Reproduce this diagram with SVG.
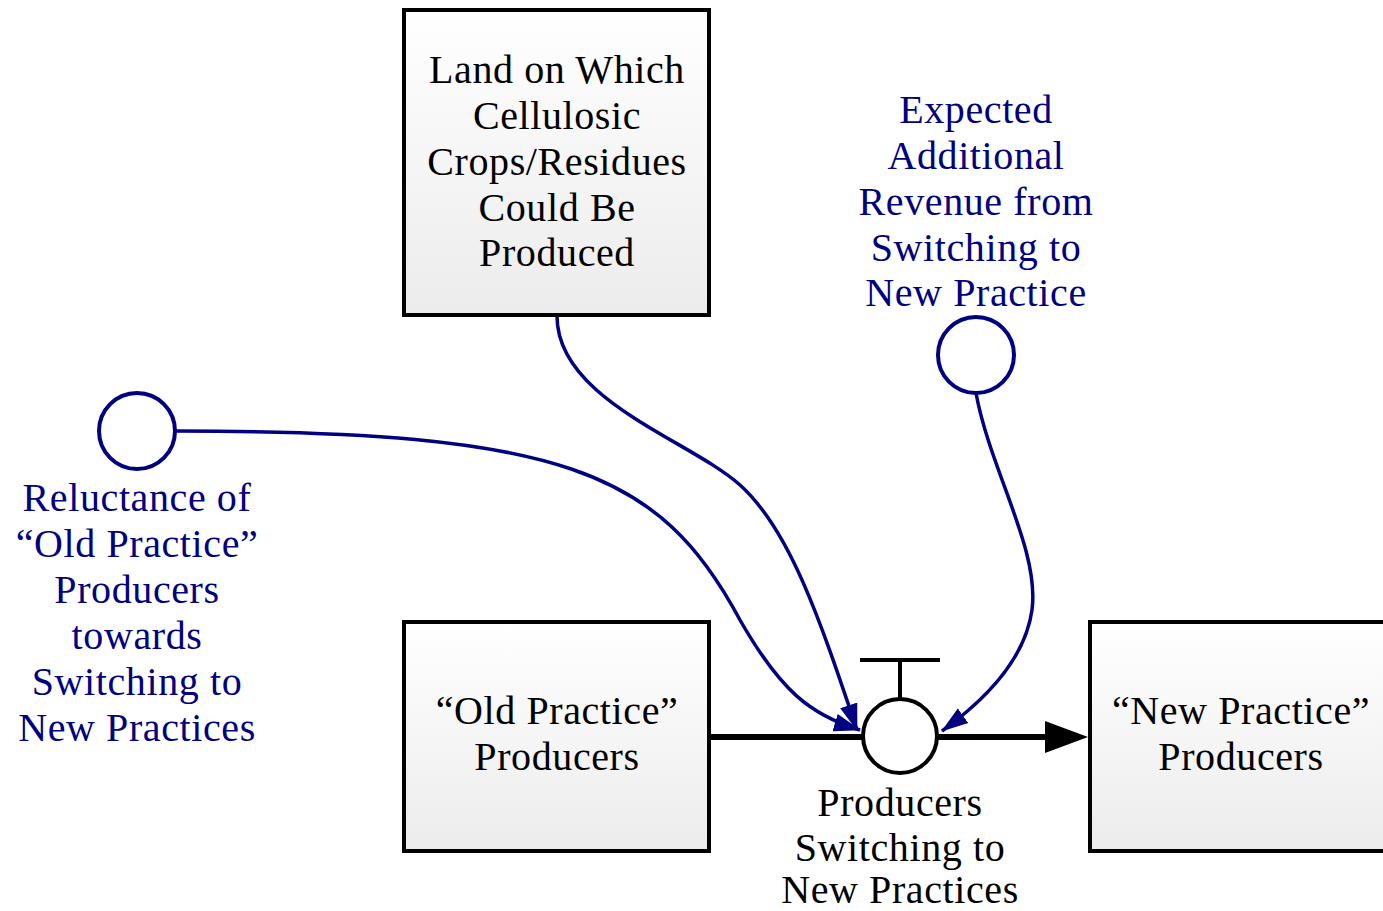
<svg xmlns="http://www.w3.org/2000/svg" width="1383" height="911" viewBox="0 0 1383 911">
<defs>
<linearGradient id="g" x1="0" y1="0" x2="0" y2="1"><stop offset="0" stop-color="#ffffff"/><stop offset="1" stop-color="#ececec"/></linearGradient>
<marker id="na" markerWidth="28" markerHeight="20" refX="26" refY="10" orient="auto" markerUnits="userSpaceOnUse"><path d="M0,1 L27,10 L0,19 Z" fill="#000080"/></marker>
<style>
.box{fill:url(#g);stroke:#000;stroke-width:4}
.t{font-family:"Liberation Serif","DejaVu Serif",serif;font-size:40px;letter-spacing:0.6px;text-anchor:middle}
.k{fill:#000}
.b{fill:#000080}
.aux{fill:#fff;stroke:#000080;stroke-width:4}
.lnk{fill:none;stroke:#000080;stroke-width:3.5;marker-end:url(#na)}
</style>
</defs>
<rect width="1383" height="911" fill="#fff"/>
<g id="connectors">
<path class="lnk" d="M176,431 C560,431 660,470 740,620 C780,690 810,715 860,730"/>
<path class="lnk" d="M557,316 C557,400 690,440 740,485 C790,530 820,620 857,730"/>
<path class="lnk" d="M976,393 C990,470 1040,550 1032,610 C1025,660 985,700 942,731"/>
<path d="M709,737 L863,737" stroke="#000" stroke-width="6" fill="none"/>
<path d="M938,737 L1050,737" stroke="#000" stroke-width="6" fill="none"/>
<path d="M1045,721 L1088,737 L1045,753 Z" fill="#000"/>
</g>
<g id="land">
<rect class="box" x="404" y="10" width="305" height="305"/>
<text class="t k"><tspan x="557" y="83">Land on Which</tspan><tspan x="557" y="129">Cellulosic</tspan><tspan x="557" y="175">Crops/Residues</tspan><tspan x="557" y="221">Could Be</tspan><tspan x="557" y="266">Produced</tspan></text>
</g>
<g id="old">
<rect class="box" x="404" y="622" width="305" height="229"/>
<text class="t k"><tspan x="557" y="724">“Old Practice”</tspan><tspan x="557" y="770">Producers</tspan></text>
</g>
<g id="new">
<rect class="box" x="1090" y="622" width="305" height="229"/>
<text class="t k"><tspan x="1241" y="724">“New Practice”</tspan><tspan x="1241" y="770">Producers</tspan></text>
</g>
<g id="valve">
<path d="M860,660 L940,660 M900,660 L900,699" stroke="#000" stroke-width="4" fill="none"/>
<circle cx="900" cy="736" r="37" fill="#fff" stroke="#000" stroke-width="4"/>
<text class="t k"><tspan x="900" y="816">Producers</tspan><tspan x="900" y="861">Switching to</tspan><tspan x="900" y="903">New Practices</tspan></text>
</g>
<g id="reluctance">
<circle class="aux" cx="137" cy="431" r="38"/>
<text class="t b"><tspan x="137" y="511">Reluctance of</tspan><tspan x="137" y="557">“Old Practice”</tspan><tspan x="137" y="603">Producers</tspan><tspan x="137" y="649">towards</tspan><tspan x="137" y="695">Switching to</tspan><tspan x="137" y="741">New Practices</tspan></text>
</g>
<g id="revenue">
<circle class="aux" cx="976" cy="355" r="38"/>
<text class="t b"><tspan x="976" y="123">Expected</tspan><tspan x="976" y="169">Additional</tspan><tspan x="976" y="215">Revenue from</tspan><tspan x="976" y="261">Switching to</tspan><tspan x="976" y="306">New Practice</tspan></text>
</g>
</svg>
